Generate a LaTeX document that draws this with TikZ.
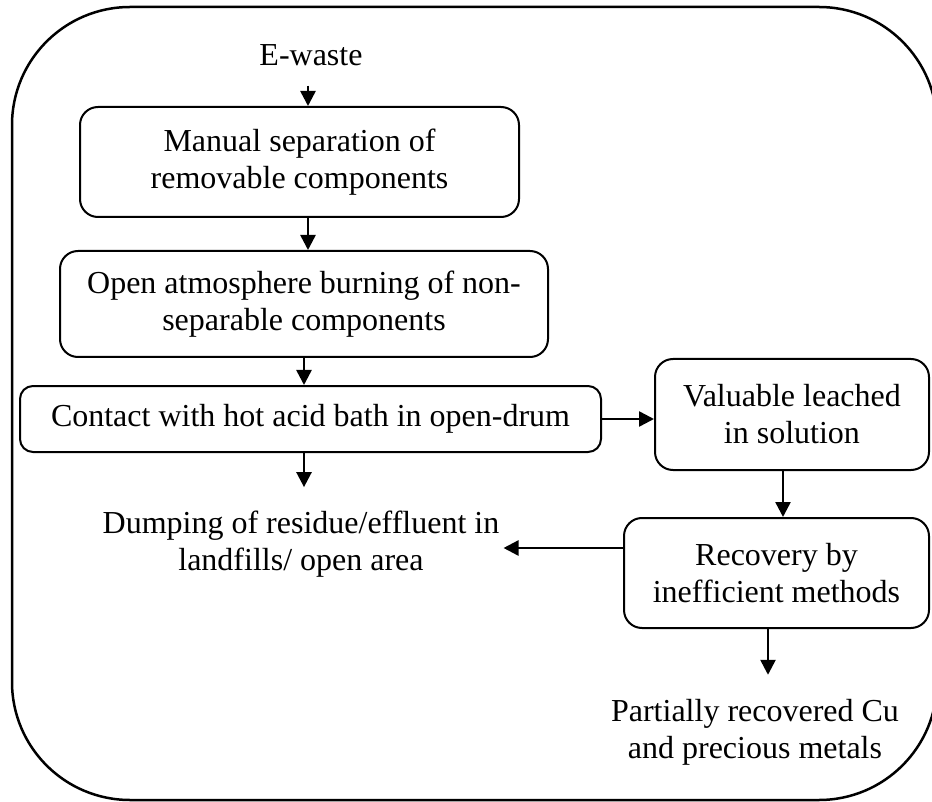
\documentclass[tikz,border=0pt]{standalone}
\usepackage{fontspec}
\setmainfont{Liberation Serif}
\usetikzlibrary{arrows.meta}

\begin{document}
\begin{tikzpicture}[x=1pt, y=-1pt,
  every node/.style={font=\fontsize{32}{37}\selectfont},
  procbox/.style={draw, line width=2pt, rounded corners=18pt, align=center, inner sep=0pt},
  plaintext/.style={align=center, inner sep=0pt},
  flow/.style={line width=2.5pt, -{Triangle[length=15pt,width=15pt]}},
]
\useasboundingbox (0,0) rectangle (932,802);

% outer frame, its right side runs past the page edge
\begin{scope}
  \clip (0,0) rectangle (932,802);
  \draw[line width=2.5pt, rounded corners=118pt] (12,7) rectangle (937,800);
\end{scope}

% process steps
\node[plaintext, anchor=base] (ewaste) at (311,66) {E-waste};
\node[procbox, minimum width=439pt, minimum height=110pt] (sep) at (299.5,162)
  {Manual separation of\\removable components};
\node[procbox, minimum width=488pt, minimum height=106pt] (burn) at (304,304)
  {Open atmosphere burning of non-\\separable components};
\node[procbox, rounded corners=13pt, minimum width=581pt, minimum height=66pt] (acid) at (310.5,419)
  {Contact with hot acid bath in open-drum};
\node[procbox, minimum width=274pt, minimum height=111pt] (leach) at (792,414.5)
  {Valuable leached\\in solution};
\node[procbox, minimum width=305pt, minimum height=110pt] (recov) at (776.5,573)
  {Recovery by\\inefficient methods};
\node[plaintext] (dump) at (301,544.5)
  {Dumping of residue/effluent in\\landfills/ open area};
\node[plaintext] (metal) at (755,732)
  {Partially recovered Cu\\and precious metals};

% connector lanes
\coordinate (xa) at (308,0);
\coordinate (xb) at (304,0);
\coordinate (xc) at (783,0);
\coordinate (xd) at (768,0);
\coordinate (ya) at (0,548);

% connectors
\draw[flow, shorten <=19pt] (ewaste.south -| xa) -- (sep.north -| xa);
\draw[flow] (sep.south -| xa) -- (burn.north -| xa);
\draw[flow] (burn.south -| xb) -- (acid.north -| xb);
\draw[flow, shorten >=24pt] (acid.south -| xb) -- (dump.north -| xb);
\draw[flow] (acid.east) -- (leach.west |- acid.east);
\draw[flow] (leach.south -| xc) -- (recov.north -| xc);
\draw[flow, shorten >=4pt] (recov.west |- ya) -- (dump.east |- ya);
\draw[flow, shorten >=24pt] (recov.south -| xd) -- (metal.north -| xd);
\end{tikzpicture}
\end{document}
